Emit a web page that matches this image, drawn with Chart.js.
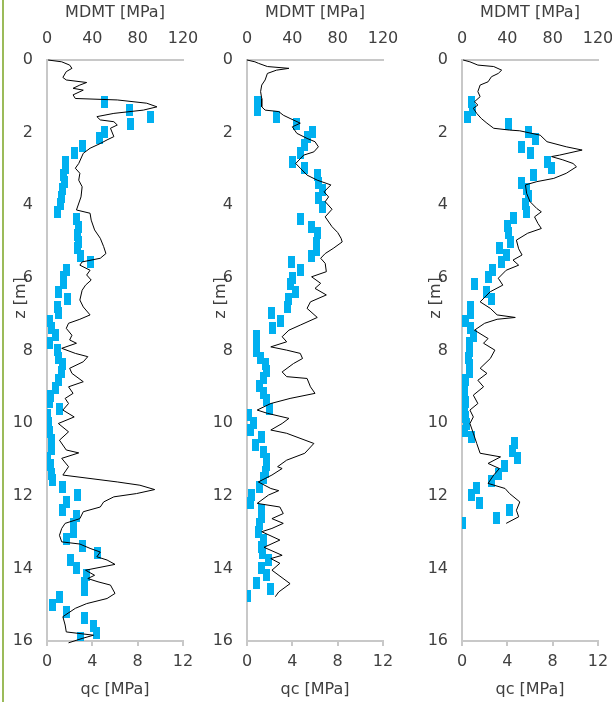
<!DOCTYPE html>
<html>
<head>
<meta charset="utf-8">
<script src="https://cdn.jsdelivr.net/npm/chart.js@4"></script>
<style>
  html, body { margin: 0; padding: 0; background: #fff; overflow: hidden; }
  body { width: 612px; height: 702px; position: relative; }
  .edge { position: absolute; left: 2px; top: 0; width: 2px; height: 702px; background: #9bbb59; }
  .panel { position: absolute; top: 0; width: 211px; height: 702px; }
</style>
</head>
<body>
<div class="edge"></div>
<div class="panel" style="left:0px"><canvas id="p1" width="211" height="702"></canvas></div>
<div class="panel" style="left:200px"><canvas id="p2" width="211" height="702"></canvas></div>
<div class="panel" style="left:415px"><canvas id="p3" width="211" height="702"></canvas></div>
<script>
// axis ticks
const qcTicks = [0, 4, 8, 12];
const mdmtTicks = [0, 40, 80, 120];
const depthTicks = [0, 2, 4, 6, 8, 10, 12, 14, 16];

// panel 1 - qc profile (depth z [m], qc [MPa])
const p1LineZ = [
  0, 0.05, 0.14, 0.23, 0.32, 0.48, 0.55, 0.62, 0.69, 0.78,
  0.83, 0.96, 1.06, 1.10, 1.19, 1.29, 1.38, 1.47, 1.56, 1.65,
  1.70, 1.79, 1.88, 2.11, 2.20, 2.30, 2.43, 2.57, 2.85, 2.98,
  3.12, 3.31, 3.49, 3.77, 4.13, 4.22, 4.41, 4.68, 4.91, 5.14,
  5.33, 5.46, 5.56, 5.65, 5.79, 5.92, 6.06, 6.20, 6.34, 6.61,
  6.80, 7.02, 7.14, 7.25, 7.39, 7.58, 7.71, 7.80, 7.94, 8.08,
  8.17, 8.31, 8.49, 8.63, 8.86, 9.00, 9.18, 9.32, 9.46, 9.64,
  9.83, 10.01, 10.24, 10.47, 10.74, 10.82, 10.97, 11.20, 11.43, 11.62,
  11.71, 11.83, 11.94, 12.03, 12.17, 12.31, 12.44, 12.63, 12.76, 12.90,
  13.09, 13.27, 13.33, 13.45, 13.55, 13.68, 13.77, 13.89, 14.05, 14.19,
  14.28, 14.37, 14.46, 14.69, 14.83, 14.97, 15.10, 15.33, 15.56, 15.75,
  15.84, 15.93, 16.05
];
const p1LineQc = [
  0.1, 1.3, 2.0, 2.2, 1.7, 1.4, 1.7, 3.5, 2.9, 2.3,
  3.2, 2.3, 2.5, 6.2, 8.8, 9.7, 8.5, 5.9, 4.4, 4.7,
  5.9, 6.2, 5.6, 5.9, 5.3, 4.7, 3.8, 3.2, 2.8, 2.5,
  2.9, 2.8, 3.1, 3.0, 2.6, 3.8, 3.9, 4.2, 4.7, 5.0,
  5.2, 4.7, 3.1, 2.9, 3.8, 3.5, 3.9, 3.4, 3.1, 2.9,
  3.2, 3.8, 2.9, 1.9, 1.7, 2.2, 2.0, 2.6, 1.3, 2.5,
  3.6, 3.2, 2.0, 2.2, 3.2, 1.9, 2.3, 1.6, 1.9, 1.4,
  2.4, 1.0, 1.9, 1.1, 1.7, 2.8, 1.3, 1.9, 1.4, 6.2,
  8.2, 9.5, 7.9, 5.9, 5.0, 4.7, 3.2, 2.9, 1.6, 1.3,
  1.1, 1.3, 2.9, 3.8, 4.7, 4.4, 5.3, 6.0, 3.4, 4.2,
  3.6, 4.5, 5.6, 6.0, 5.3, 3.5, 2.5, 1.4, 1.6, 1.7,
  4.1, 3.1, 1.9
];
// panel 1 - MDMT tests (depth z [m], MDMT [MPa])
const p1DmtZ = [
  1.17, 1.38, 1.58, 1.76, 1.97, 2.16, 2.37, 2.57, 2.80, 2.98,
  3.17, 3.35, 3.55, 3.77, 3.97, 4.18, 4.38, 4.59, 4.82, 5.00,
  5.19, 5.40, 5.56, 5.79, 5.97, 6.15, 6.38, 6.58, 6.80, 6.98,
  7.18, 7.39, 7.58, 7.78, 7.99, 8.20, 8.38, 8.59, 8.82, 9.04,
  9.25, 9.41, 9.60, 9.78, 10.01, 10.24, 10.47, 10.70, 10.97, 11.16,
  11.39, 11.57, 11.77, 11.98, 12.17, 12.38, 12.55, 12.78, 12.99, 13.20,
  13.39, 13.59, 13.77, 13.98, 14.19, 14.40, 14.60, 14.78, 15.01, 15.20,
  15.38, 15.59, 15.79, 15.93
];
const p1DmtM = [
  50.3, 72.4, 90.9, 73.3, 50.3, 45.9, 30.9, 24.4, 15.9, 16.5,
  14.4, 15.3, 13.8, 12.4, 11.5, 9.4, 25.6, 27.6, 26.8, 27.6,
  27.1, 29.7, 38.0, 17.4, 14.4, 14.4, 10.0, 18.5, 9.1, 10.3,
  2.6, 4.1, 7.7, 2.6, 9.4, 10.0, 13.5, 12.4, 10.0, 7.1,
  3.2, 2.6, 10.6, 0.6, 1.2, 2.0, 4.1, 4.1, 0.3, 3.0,
  4.1, 5.0, 13.8, 27.1, 17.4, 13.8, 26.2, 23.8, 23.8, 17.4,
  31.5, 44.7, 20.3, 25.6, 35.0, 33.5, 33.5, 10.9, 5.0, 16.8,
  33.5, 40.9, 43.9, 29.7
];

// panel 2
const p2LineZ = [
  0, 0.05, 0.09, 0.18, 0.23, 0.28, 0.37, 0.55, 0.69, 0.87,
  1.06, 1.29, 1.38, 1.42, 1.52, 1.61, 1.74, 1.84, 2.02, 2.16,
  2.25, 2.39, 2.53, 2.62, 2.85, 2.98, 3.17, 3.31, 3.44, 3.63,
  3.77, 3.90, 4.11, 4.32, 4.59, 4.75, 4.91, 5.01, 5.19, 5.33,
  5.46, 5.60, 5.83, 5.97, 6.15, 6.29, 6.47, 6.66, 6.84, 7.09,
  7.30, 7.44, 7.62, 7.76, 7.90, 7.99, 8.08, 8.22, 8.36, 8.59,
  8.72, 8.77, 9.00, 9.18, 9.32, 9.46, 9.64, 9.73, 9.87, 10.01,
  10.19, 10.28, 10.56, 10.83, 11.02, 11.20, 11.25, 11.43, 11.62, 11.80,
  11.86, 11.98, 12.21, 12.31, 12.49, 12.63, 12.76, 12.90, 12.99, 13.22,
  13.42, 13.64, 13.73, 13.86, 14.05, 14.42, 14.65, 14.78
];
const p2LineQc = [
  0, 0.7, 1.0, 1.8, 3.7, 2.6, 1.8, 1.6, 1.3, 1.2,
  1.3, 1.3, 1.6, 2.8, 3.2, 3.8, 4.7, 4.0, 4.4, 5.3,
  6.0, 6.3, 5.9, 5.0, 4.3, 4.7, 5.3, 6.2, 7.4, 6.8,
  7.2, 6.9, 7.5, 6.9, 7.5, 8.0, 8.3, 8.4, 7.6, 6.9,
  6.5, 6.9, 7.0, 5.7, 6.5, 6.0, 7.0, 5.6, 5.3, 6.2,
  4.7, 3.7, 3.1, 3.5, 2.1, 3.5, 4.7, 4.9, 4.1, 3.1,
  3.5, 5.3, 5.6, 6.0, 3.8, 2.1, 0.9, 1.8, 3.7, 3.1,
  2.1, 3.5, 5.9, 5.1, 3.5, 2.7, 3.1, 2.2, 1.0, 2.1,
  2.8, 1.9, 0.9, 2.9, 3.2, 2.2, 3.2, 2.2, 1.3, 2.9,
  1.5, 3.1, 2.1, 2.9, 2.2, 3.8, 2.8, 2.5
];
const p2DmtZ = [
  1.17, 1.38, 1.58, 1.77, 1.97, 2.13, 2.34, 2.55, 2.80, 2.98,
  3.17, 3.40, 3.58, 3.79, 4.04, 4.39, 4.59, 4.77, 5.05, 5.23,
  5.39, 5.57, 5.79, 5.99, 6.17, 6.38, 6.58, 6.80, 6.98, 7.18,
  7.39, 7.59, 7.80, 8.01, 8.22, 8.38, 8.57, 8.77, 8.98, 9.17,
  9.35, 9.60, 9.78, 9.99, 10.19, 10.38, 10.59, 10.79, 11.00, 11.16,
  11.34, 11.52, 11.77, 11.98, 12.19, 12.39, 12.59, 12.79, 12.99, 13.22,
  13.41, 13.59, 13.77, 13.98, 14.19, 14.39, 14.57, 14.76
];
const p2DmtM = [
  9.7, 9.7, 25.9, 44.1, 58.2, 53.5, 50.6, 47.0, 40.0, 50.6,
  62.3, 63.2, 66.7, 63.2, 66.7, 47.0, 56.7, 62.6, 61.7, 61.7,
  56.7, 39.1, 46.8, 40.0, 38.2, 42.6, 36.2, 35.3, 21.2, 29.4,
  22.1, 8.2, 8.2, 8.8, 11.7, 16.4, 16.8, 14.6, 10.9, 14.6,
  16.8, 19.9, 0.9, 5.9, 2.9, 12.4, 7.3, 14.6, 17.6, 17.6,
  16.2, 14.6, 11.1, 4.4, 2.9, 12.4, 12.4, 11.1, 10.2, 14.6,
  13.2, 13.8, 19.1, 13.2, 16.8, 8.8, 20.6, 0
];

// panel 3
const p3LineZ = [
  0, 0.05, 0.14, 0.18, 0.28, 0.37, 0.46, 0.60, 0.69, 0.87,
  1.01, 1.15, 1.24, 1.33, 1.47, 1.61, 1.74, 1.88, 1.93, 1.95,
  2.07, 2.25, 2.39, 2.48, 2.62, 2.66, 2.75, 2.85, 2.94, 3.12,
  3.26, 3.35, 3.44, 3.67, 3.90, 4.09, 4.18, 4.32, 4.50, 4.64,
  4.77, 4.96, 5.20, 5.37, 5.51, 5.65, 5.79, 6.01, 6.20, 6.38,
  6.66, 6.84, 7.02, 7.09, 7.14, 7.25, 7.44, 7.67, 7.80, 7.99,
  8.22, 8.49, 8.63, 8.82, 9.00, 9.23, 9.46, 9.64, 9.83, 10.01,
  10.28, 10.56, 10.83, 10.93, 11.11, 11.25, 11.43, 11.66, 11.80, 11.94,
  12.17, 12.40, 12.58, 12.76
];
const p3LineQc = [
  0.1, 0.7, 1.4, 2.8, 3.5, 3.2, 2.6, 2.3, 1.6, 1.4,
  1.6, 1.1, 1.4, 1.0, 1.3, 1.7, 2.2, 2.8, 4.2, 5.1,
  6.9, 7.5, 9.2, 10.6, 8.6, 7.9, 8.9, 9.8, 10.1, 9.2,
  8.1, 6.6, 5.6, 5.7, 6.0, 6.6, 7.0, 6.4, 6.7, 7.0,
  5.8, 4.8, 5.0, 5.3, 4.5, 5.0, 3.9, 3.2, 3.6, 2.5,
  1.6, 2.5, 3.1, 4.7, 3.1, 2.0, 1.1, 2.3, 1.9, 2.9,
  2.5, 1.6, 2.2, 1.4, 1.9, 1.0, 1.4, 0.7, 1.0, 0.7,
  1.0, 1.3, 1.6, 3.4, 2.3, 3.3, 2.8, 2.3, 3.8, 4.2,
  5.1, 4.8, 5.0, 3.9
];
const p3DmtZ = [
  1.15, 1.38, 1.58, 1.76, 1.97, 2.18, 2.39, 2.57, 2.80, 2.98,
  3.17, 3.38, 3.55, 3.75, 3.97, 4.18, 4.36, 4.56, 4.77, 5.01,
  5.19, 5.37, 5.57, 5.77, 5.97, 6.17, 6.38, 6.59, 6.80, 6.98,
  7.18, 7.39, 7.60, 7.80, 8.01, 8.20, 8.40, 8.59, 8.82, 9.00,
  9.20, 9.41, 9.64, 9.84, 10.03, 10.21, 10.39, 10.56, 10.76, 10.97,
  11.18, 11.39, 11.59, 11.78, 11.98, 12.19, 12.38, 12.60, 12.75
];
const p3DmtM = [
  8.5, 9.1, 5.0, 41.2, 59.1, 65.0, 52.7, 60.6, 75.6, 79.2,
  63.5, 52.7, 57.1, 58.5, 55.6, 57.1, 45.3, 40.0, 41.2, 42.4,
  33.5, 39.4, 35.0, 27.1, 23.0, 10.6, 21.8, 26.2, 7.1, 7.6,
  3.5, 7.6, 10.0, 6.4, 6.4, 5.6, 6.4, 6.4, 3.5, 1.8,
  2.6, 3.5, 2.6, 3.5, 4.1, 2.6, 8.5, 45.9, 44.4, 49.2,
  37.9, 31.8, 25.6, 12.4, 8.5, 15.0, 41.5, 30.0, 0.6
];

Chart.defaults.font.family = "'DejaVu Sans', Verdana, sans-serif";
Chart.defaults.font.size = 16;
Chart.defaults.color = '#404040';

const axisGrey = '#c8c8c8';

// blue DMT marker, drawn as a small upright bar
function makeBar(w, h, color) {
  const c = document.createElement('canvas');
  c.width = w;
  c.height = h;
  const g = c.getContext('2d');
  g.fillStyle = color;
  g.fillRect(0, 0, w, h);
  return c;
}
const dmtBar = makeBar(7, 12, '#00b0f0');

// rotated "z [m]" label, sits over the tick labels like the original
const depthTitle = {
  id: 'depthTitle',
  afterDraw(chart) {
    const ctx = chart.ctx;
    ctx.save();
    ctx.translate(chart.chartArea.left - 26, 298);
    ctx.rotate(-Math.PI / 2);
    ctx.font = "16px 'DejaVu Sans'";
    ctx.fillStyle = '#404040';
    ctx.textAlign = 'center';
    ctx.textBaseline = 'middle';
    ctx.fillText('z [m]', 0, 0);
    ctx.restore();
  }
};

function makePanel(id, lineZ, lineQc, dmtZ, dmtM) {
  const ctx = document.getElementById(id).getContext('2d');
  return new Chart(ctx, {
    type: 'scatter',
    data: {
      datasets: [{
        label: 'qc',
        data: lineZ.map((z, i) => ({ x: lineQc[i], y: z })),
        showLine: true,
        borderColor: '#000000',
        borderWidth: 1,
        pointRadius: 0,
        tension: 0,
        clip: false,
        xAxisID: 'x'
      }, {
        label: 'MDMT',
        data: dmtZ.map((z, i) => ({ x: dmtM[i], y: z })),
        showLine: false,
        pointStyle: dmtBar,
        pointRadius: 6,
        xAxisID: 'x2'
      }]
    },
    options: {
      responsive: false,
      animation: false,
      events: [],
      // right padding must cover the overhang of the "120" label
      layout: { padding: { left: 0, right: 28, top: 0, bottom: 0 } },
      plugins: { legend: { display: false }, tooltip: { enabled: false } },
      scales: {
        x: {
          type: 'linear',
          position: 'bottom',
          min: 0, max: 12,
          afterBuildTicks: s => { s.ticks = qcTicks.map(v => ({ value: v })); },
          ticks: { padding: 6, maxRotation: 0 },
          grid: { display: true, drawOnChartArea: false, drawTicks: true, tickLength: 5, color: axisGrey, lineWidth: 2 },
          border: { display: true, color: axisGrey, width: 2 },
          title: { display: true, text: 'qc [MPa]', padding: { top: 0, bottom: 3 } },
          afterFit: s => { s.height = 61; }
        },
        x2: {
          type: 'linear',
          position: 'top',
          min: 0, max: 120,
          afterBuildTicks: s => { s.ticks = mdmtTicks.map(v => ({ value: v })); },
          ticks: { padding: 12, maxRotation: 0 },
          grid: { display: false, drawTicks: false },
          border: { display: true, color: axisGrey, width: 2 },
          title: { display: true, text: 'MDMT [MPa]', padding: { top: 3, bottom: 0 } },
          afterFit: s => { s.height = 60; }
        },
        y: {
          type: 'linear',
          reverse: true,
          min: 0, max: 16,
          afterBuildTicks: s => { s.ticks = depthTicks.map(v => ({ value: v })); },
          ticks: { padding: 14 },
          grid: { display: false, drawTicks: false },
          border: { display: true, color: axisGrey, width: 2 },
          afterFit: s => { s.width = 47; }
        }
      }
    },
    plugins: [depthTitle]
  });
}

makePanel('p1', p1LineZ, p1LineQc, p1DmtZ, p1DmtM);
makePanel('p2', p2LineZ, p2LineQc, p2DmtZ, p2DmtM);
makePanel('p3', p3LineZ, p3LineQc, p3DmtZ, p3DmtM);
</script>
</body>
</html>
